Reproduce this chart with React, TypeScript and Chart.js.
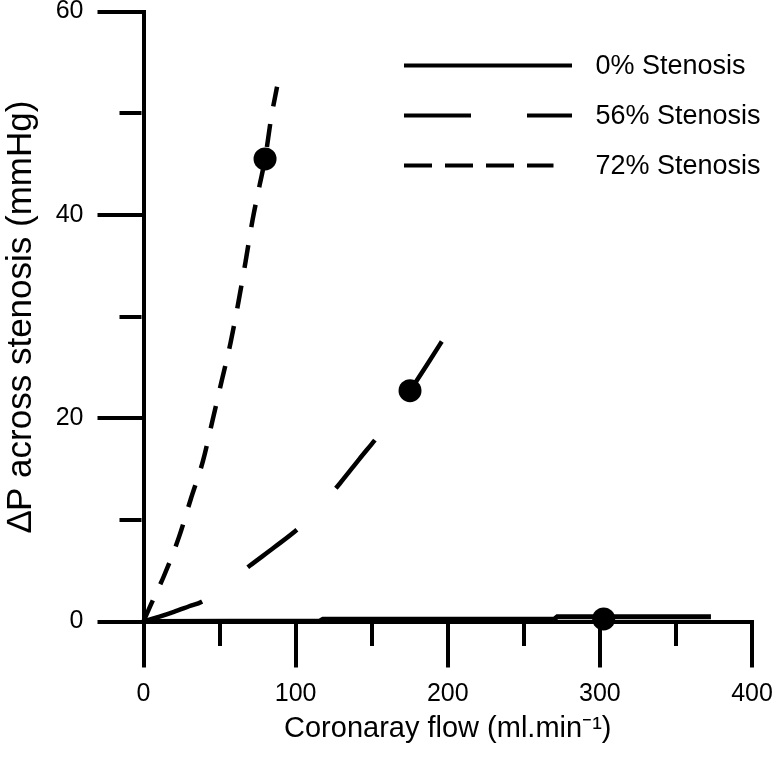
import React, { useEffect, useRef } from 'react';
import { Chart, registerables } from 'chart.js';

Chart.register(...registerables);

// ---- data ----
const seriesNames = ['0% Stenosis', '56% Stenosis', '72% Stenosis'];

const flow0 = [0, 116, 118, 270, 272, 373];
const dp0 = [0, 0.05, 0.23, 0.23, 0.46, 0.46];

const flow56 = [0, 10, 20, 30, 38.3, 54, 70, 86, 102.9, 116, 129.2, 142, 155.5, 165, 175.2, 187, 199.3];
const dp56 = [0, 0.45, 0.95, 1.5, 1.95, 3.6, 5.5, 7.3, 9.3, 11.3, 13.6, 16, 18.5, 20.5, 22.7, 25.4, 28.3];

const flow72 = [0, 5, 13.5, 23.3, 31.2, 39.1, 45.4, 51.3, 57.2, 62.5, 67.1, 71.7, 76.3, 79.9, 84, 87.8];
const dp72 = [0, 1.7, 4.5, 8.3, 12.1, 15.8, 19.8, 23.6, 27.4, 31.5, 35.4, 39.5, 42.9, 45.5, 49.6, 52.6];

// operating points (filled circles)
const markerFlow = [302.5, 175.2, 79.9];
const markerDp = [0.25, 22.7, 45.5];

const xMin = 0, xMax = 400, xStep = 50, xLabelStep = 100;
const yMin = 0, yMax = 60, yStep = 10, yLabelStep = 20;

const xTitle = 'Coronaray flow (ml.min\u207B\u00B9)';
const yTitle = '\u2206P across stenosis (mmHg)';

const FONT = "'Liberation Sans', Arial, Helvetica, sans-serif";

const toPts = (xs: number[], ys: number[]) => xs.map((x, i) => ({ x, y: ys[i] }));

const legendDashes = [[], [67, 56], [28, 13]];

const insideLegend = {
  id: 'insideLegend',
  afterDraw(chart: any) {
    const { ctx, chartArea } = chart;
    const left = chartArea.left;
    const top = chartArea.top;
    const lineStart = left + 260.5;
    const lineEnds = [left + 428.5, left + 428.5, left + 410];
    const textX = left + 452;
    const rowY = [top + 54, top + 104, top + 154];
    ctx.save();
    for (let i = 0; i < 3; i++) {
      const ds = chart.data.datasets[i];
      ctx.beginPath();
      ctx.setLineDash(legendDashes[i]);
      ctx.lineWidth = 4;
      ctx.strokeStyle = '#000';
      ctx.lineCap = 'butt';
      ctx.moveTo(lineStart, rowY[i]);
      ctx.lineTo(lineEnds[i], rowY[i]);
      ctx.stroke();
      ctx.setLineDash([]);
      ctx.fillStyle = '#000';
      ctx.font = `27px ${FONT}`;
      ctx.textAlign = 'left';
      ctx.textBaseline = 'middle';
      ctx.fillText(ds.label, textX, rowY[i] + 1);
    }
    ctx.restore();
  },
};

export default function App() {
  const ref = useRef<HTMLCanvasElement | null>(null);

  useEffect(() => {
    if (!ref.current) return;
    Chart.defaults.font.family = FONT;
    Chart.defaults.color = '#000';

    const chart = new Chart(ref.current, {
      type: 'line',
      data: {
        datasets: [
          {
            label: seriesNames[0],
            data: toPts(flow0, dp0),
            borderColor: '#000',
            borderWidth: 5,
            pointRadius: 0,
            tension: 0,
            fill: false,
            clip: false,
          },
          {
            label: seriesNames[1],
            data: toPts(flow56, dp56),
            borderColor: '#000',
            borderWidth: 4.5,
            borderDash: [62, 57],
            pointRadius: 0,
            cubicInterpolationMode: 'monotone',
            fill: false,
            clip: false,
          },
          {
            label: seriesNames[2],
            data: toPts(flow72, dp72),
            borderColor: '#000',
            borderWidth: 4.5,
            borderDash: [23, 18],
            pointRadius: 0,
            cubicInterpolationMode: 'monotone',
            fill: false,
            clip: false,
          },
          {
            label: 'markers',
            data: toPts(markerFlow, markerDp),
            showLine: false,
            pointRadius: 11.5,
            pointBorderWidth: 0,
            pointBackgroundColor: '#000',
            pointBorderColor: '#000',
            clip: false,
          },
        ],
      } as any,
      options: {
        animation: false,
        responsive: false,
        events: [],
        layout: { padding: { top: 11, right: 22, bottom: 0, left: 0 } },
        plugins: { legend: { display: false }, tooltip: { enabled: false } },
        scales: {
          x: {
            type: 'linear',
            position: 'bottom',
            min: xMin,
            max: xMax,
            afterFit: (s: any) => {
              s.height = 136.5;
              s.paddingLeft = 0;
              s.paddingRight = 0;
            },
            ticks: {
              stepSize: xStep,
              autoSkip: false,
              maxRotation: 0,
              padding: 12,
              color: '#000',
              font: { size: 25 },
              callback: (v: any) => (Number(v) % xLabelStep === 0 ? String(v) : ''),
            },
            grid: {
              display: true,
              drawOnChartArea: false,
              drawTicks: true,
              tickLength: 46,
              tickWidth: 4,
              lineWidth: 4,
              tickColor: '#000',
              color: '#000',
              tickBorderDash: (c: any) => (c.tick && c.tick.value % xLabelStep === 0 ? [] : [22, 100]),
            },
            border: { display: true, width: 4, color: '#000' },
            title: {
              display: true,
              text: xTitle,
              color: '#000',
              font: { size: 29 },
              padding: { top: 0, bottom: 12 },
            },
          },
          y: {
            type: 'linear',
            position: 'left',
            min: yMin,
            max: yMax,
            afterFit: (s: any) => {
              s.width = 143.5;
              s.paddingTop = 0;
              s.paddingBottom = 0;
            },
            ticks: {
              stepSize: yStep,
              autoSkip: false,
              padding: 14,
              color: '#000',
              font: { size: 25 },
              callback: (v: any) => (Number(v) % yLabelStep === 0 ? String(v) : ''),
            },
            grid: {
              display: true,
              drawOnChartArea: false,
              drawTicks: true,
              tickLength: 46,
              tickWidth: 4,
              lineWidth: 4,
              tickColor: '#000',
              color: '#000',
              tickBorderDash: (c: any) => (c.tick && c.tick.value % yLabelStep === 0 ? [] : [0, 22, 22, 100]),
            },
            border: { display: true, width: 4, color: '#000' },
            title: {
              display: true,
              text: yTitle,
              color: '#000',
              font: { size: 35 },
              padding: { top: 0, bottom: 0 },
            },
          },
        },
      } as any,
      plugins: [insideLegend],
    });

    return () => chart.destroy();
  }, []);

  return (
    <div style={{ position: 'fixed', left: 0, top: 0, width: 774, height: 758, background: '#fff' }}>
      <canvas ref={ref} width={774} height={758} style={{ display: 'block' }} />
    </div>
  );
}
